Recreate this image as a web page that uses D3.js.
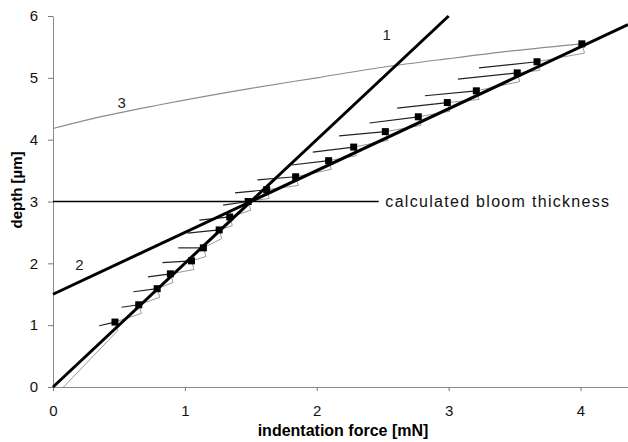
<!DOCTYPE html>
<html>
<head>
<meta charset="utf-8">
<script src="https://cdn.jsdelivr.net/npm/d3@7"></script>
<style>
  body { margin: 0; background: #fff; }
  svg { display: block; font-family: "Liberation Sans", Arial, sans-serif; }
</style>
</head>
<body>
<div id="chart"></div>
<script>
// measured points (force in mN, depth in um)
const forceVals = [0.47, 0.65, 0.79, 0.89, 1.05, 1.14, 1.26, 1.34, 1.48, 1.62, 1.84, 2.09, 2.28, 2.52, 2.77, 2.99, 3.21, 3.52, 3.67, 4.01];
const depthVals = [1.05, 1.33, 1.59, 1.83, 2.04, 2.25, 2.54, 2.75, 3.00, 3.19, 3.40, 3.66, 3.88, 4.13, 4.37, 4.60, 4.79, 5.08, 5.26, 5.55];

// bottom of the small loading hooks under each point
const hookForce = [0.49, 0.67, 0.81, 0.91, 1.07, 1.16, 1.28, 1.36, 1.50, 1.64, 1.86, 2.11, 2.30, 2.54, 2.79, 3.01, 3.23, 3.54, 3.69, 4.03];
const hookDepth = [0.91, 1.19, 1.45, 1.69, 1.90, 2.11, 2.40, 2.61, 2.86, 3.05, 3.26, 3.52, 3.74, 3.99, 4.23, 4.46, 4.65, 4.94, 5.12, 5.40];

// end of the unloading tails (one per point except the last)
const tailForce = [0.35, 0.52, 0.61, 0.72, 0.83, 0.95, 1.02, 1.11, 1.29, 1.38, 1.55, 1.81, 1.97, 2.17, 2.40, 2.61, 2.82, 3.07, 3.23];
const tailDepth = [0.99, 1.29, 1.54, 1.78, 2.01, 2.25, 2.49, 2.70, 2.94, 3.14, 3.35, 3.59, 3.80, 4.06, 4.27, 4.51, 4.71, 4.98, 5.16];

// fitted lines 1 and 2, curve 3
const line1Force = [0, 3];
const line1Depth = [0, 6];
const line2Force = [0, 4.36];
const line2Depth = [1.5, 5.86];
const curve3Force = [0, 0.3, 0.8, 1.5, 2.0, 2.5, 3.0, 3.5, 4.01];
const curve3Depth = [4.18, 4.34, 4.56, 4.83, 5.0, 5.17, 5.31, 5.44, 5.55];

const bloomDepth = 3;
const bloomEnd = 2.47;

const xTicks = [0, 1, 2, 3, 4];
const yTicks = [0, 1, 2, 3, 4, 5, 6];

const svgWidth = 628;
const svgHeight = 442;
const margin = { top: 16, right: 0, bottom: 55, left: 53 };
const width = svgWidth - margin.left - margin.right;
const height = svgHeight - margin.top - margin.bottom;

const svg = d3.select('#chart')
  .append('svg')
  .attr('width', svgWidth)
  .attr('height', svgHeight);

const chartGroup = svg.append('g')
  .attr('transform', `translate(${margin.left}, ${margin.top})`);

const xScale = d3.scaleLinear().domain([0, 4.36]).range([0, width]);
const yScale = d3.scaleLinear().domain([0, 6]).range([height, 0]);

// axes
const xAxis = chartGroup.append('g')
  .attr('transform', `translate(0, ${height})`)
  .call(d3.axisBottom(xScale).tickValues(xTicks).tickFormat(d3.format('d'))
    .tickSize(4).tickSizeOuter(0).tickPadding(14));

const yAxis = chartGroup.append('g')
  .call(d3.axisLeft(yScale).tickValues(yTicks).tickFormat(d3.format('d'))
    .tickSize(5).tickSizeOuter(0).tickPadding(10));

[xAxis, yAxis].forEach(ax => {
  ax.select('.domain').attr('stroke', '#8a8a8a');
  ax.selectAll('.tick line').attr('stroke', '#777');
  ax.selectAll('.tick text').attr('fill', '#111').style('font-size', '15px');
});

const pairs = (xs, ys) => xs.map((v, i) => [v, ys[i]]);
const lineGen = d3.line().x(d => xScale(d[0])).y(d => yScale(d[1]));

// bloom thickness line
chartGroup.append('path')
  .attr('d', lineGen([[0, bloomDepth], [bloomEnd, bloomDepth]]))
  .attr('stroke', '#000')
  .attr('stroke-width', 1.3)
  .attr('fill', 'none');

chartGroup.append('text')
  .attr('x', xScale(2.52))
  .attr('y', yScale(bloomDepth))
  .attr('dy', '0.35em')
  .style('font-size', '16px')
  .style('letter-spacing', '1.3px')
  .attr('fill', '#111')
  .text('calculated bloom thickness');

// curve 3
chartGroup.append('path')
  .attr('d', lineGen.curve(d3.curveMonotoneX)(pairs(curve3Force, curve3Depth)))
  .attr('stroke', '#8c8c8c')
  .attr('stroke-width', 1.1)
  .attr('fill', 'none');
lineGen.curve(d3.curveLinear);

// loading path with hooks
const loadPts = [[0.08, 0]];
forceVals.forEach((f, i) => {
  loadPts.push([hookForce[i], hookDepth[i]]);
  loadPts.push([f, depthVals[i]]);
});
chartGroup.append('path')
  .attr('d', lineGen(loadPts))
  .attr('stroke', '#9a9a9a')
  .attr('stroke-width', 1)
  .attr('fill', 'none');

// unloading tails
chartGroup.selectAll('.tail')
  .data(tailForce)
  .enter()
  .append('path')
  .attr('class', 'tail')
  .attr('d', (d, i) => lineGen([[forceVals[i], depthVals[i]], [d, tailDepth[i]]]))
  .attr('stroke', '#222')
  .attr('stroke-width', 1.2)
  .attr('fill', 'none');

// thick fitted lines
[[line1Force, line1Depth], [line2Force, line2Depth]].forEach(([xs, ys]) => {
  chartGroup.append('path')
    .attr('d', lineGen(pairs(xs, ys)))
    .attr('stroke', '#000')
    .attr('stroke-width', 3)
    .attr('fill', 'none');
});

// square markers
chartGroup.selectAll('.pt')
  .data(forceVals)
  .enter()
  .append('rect')
  .attr('class', 'pt')
  .attr('x', d => xScale(d) - 3.5)
  .attr('y', (d, i) => yScale(depthVals[i]) - 3.5)
  .attr('width', 7)
  .attr('height', 7)
  .attr('fill', '#000');

// line labels
const labels = [
  { t: '1', x: 2.53, y: 5.7 },
  { t: '2', x: 0.2, y: 1.97 },
  { t: '3', x: 0.52, y: 4.6 }
];
chartGroup.selectAll('.lbl')
  .data(labels)
  .enter()
  .append('text')
  .attr('class', 'lbl')
  .attr('x', d => xScale(d.x))
  .attr('y', d => yScale(d.y))
  .attr('dy', '0.35em')
  .attr('text-anchor', 'middle')
  .style('font-size', '15px')
  .attr('fill', '#222')
  .text(d => d.t);

// axis titles
svg.append('text')
  .attr('x', 343)
  .attr('y', 436)
  .attr('text-anchor', 'middle')
  .style('font-size', '16px')
  .style('font-weight', 'bold')
  .text('indentation force [mN]');

svg.append('text')
  .attr('transform', 'translate(17, 190) rotate(-90)')
  .attr('text-anchor', 'middle')
  .attr('dy', '0.35em')
  .style('font-size', '15px')
  .style('font-weight', 'bold')
  .text('depth [µm]');
</script>
</body>
</html>
